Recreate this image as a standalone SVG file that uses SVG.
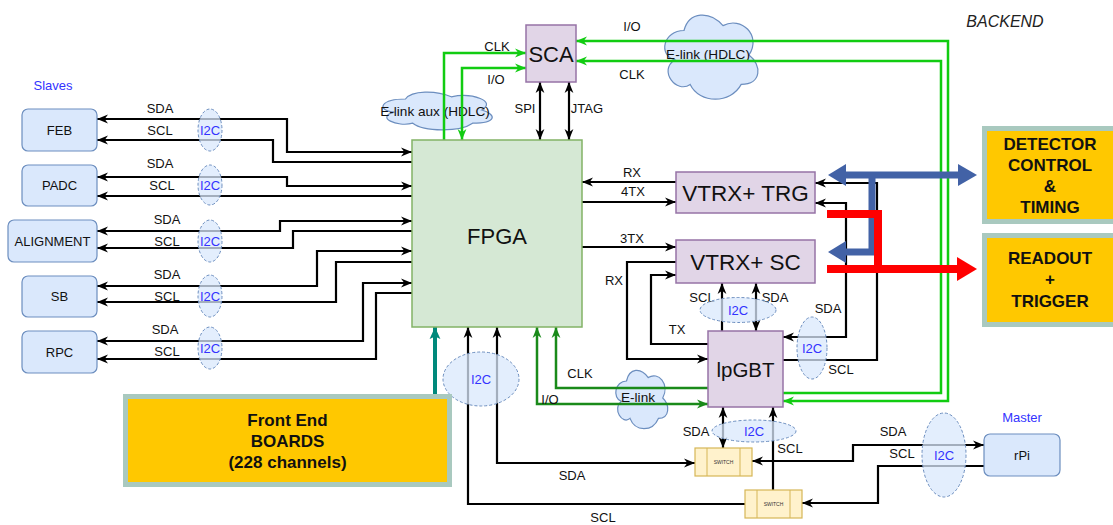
<svg xmlns="http://www.w3.org/2000/svg" width="1113" height="525" viewBox="0 0 1113 525">
<style>
text{font-family:"Liberation Sans",Arial,sans-serif;fill:#111}
.lbl{font-size:13px;text-anchor:middle}
.cl{font-size:13.6px;text-anchor:middle}
.box{fill:#DAE8FC;stroke:#6C8EBF;stroke-width:1.2}
.chip{fill:#E1D5E7;stroke:#9673A6;stroke-width:1.5}
.bt{font-size:13px;text-anchor:middle}
.i2c{fill:#DAE8FC;fill-opacity:0.75;stroke:#6C8EBF;stroke-width:1;stroke-dasharray:3 2}
.i2ct{font-size:13px;text-anchor:middle;fill:#3333FF}
.cloud{fill:#DAE8FC;stroke:#6C8EBF;stroke-width:1.2}
.k{fill:none;stroke:#000;stroke-width:2.2}
.g{fill:none;stroke:#11CC11;stroke-width:2.5}
.dg{fill:none;stroke:#1A8A1A;stroke-width:2.5}
.yb{fill:#FFC800;stroke:#A9C9BF;stroke-width:5}
.ybt{font-size:17px;font-weight:bold;text-anchor:middle}
.sw{fill:#FFF2CC;stroke:#D6B656;stroke-width:1.2}
.swt{font-size:5px;text-anchor:middle;fill:#333}
.blue{fill:none;stroke:#4262A6;stroke-width:7}
.red{fill:none;stroke:#FF0000;stroke-width:8}
</style>
<defs>
<marker id="ak" viewBox="0 0 10 10" refX="10" refY="5" markerWidth="11" markerHeight="11" markerUnits="userSpaceOnUse" orient="auto-start-reverse"><path d="M0,1 L10,5 L0,9 L3,5 Z" fill="#000"/></marker>
<marker id="ag" viewBox="0 0 10 10" refX="10" refY="5" markerWidth="11" markerHeight="11" markerUnits="userSpaceOnUse" orient="auto-start-reverse"><path d="M0,1 L10,5 L0,9 L3,5 Z" fill="#11CC11"/></marker>
<marker id="adg" viewBox="0 0 10 10" refX="10" refY="5" markerWidth="11" markerHeight="11" markerUnits="userSpaceOnUse" orient="auto-start-reverse"><path d="M0,1 L10,5 L0,9 L3,5 Z" fill="#1A8A1A"/></marker>
<marker id="at" viewBox="0 0 10 10" refX="10" refY="5" markerWidth="12" markerHeight="12" markerUnits="userSpaceOnUse" orient="auto-start-reverse"><path d="M0,0.5 L10,5 L0,9.5 L2,5 Z" fill="#00897B"/></marker>
</defs>

<rect width="1113" height="525" fill="#fff"/>

<!-- clouds -->
<g id="cloud-elink-aux">
<path class="cloud" d="M405.5,99 C381.1,99 375,110 394.5,112.2 C375,117 397,127.6 412.8,123.2 C423.8,132 460.4,132 472.6,123.2 C497,123.2 497,114.4 481.75,110 C497,101.2 472.6,92.4 451.25,96.8 C436,90.2 411.6,90.2 405.5,99 Z"/>
<text x="435" y="116" class="cl">E-link aux (HDLC)</text>
</g>
<g id="cloud-elink-hdlc">
<path class="cloud" d="M684,30.5 C663.2,30.5 658,55 674.6,59.9 C658,70.7 676.7,94.2 690.2,84.4 C699.6,104 730.8,104 741.2,84.4 C762,84.4 762,64.8 749,55 C762,35.4 741.2,15.8 723,25.6 C710,10.9 689.2,10.9 684,30.5 Z"/>
<text x="708" y="59" class="cl">E-link (HDLC)</text>
</g>
<g id="cloud-elink">
<path class="cloud" d="M626.5,381 C614.9,381 612,398 621.3,401.4 C612,408.9 622.4,425.2 630,418.4 C635.2,432 652.6,432 658.4,418.4 C670,418.4 670,404.8 662.75,398 C670,384.4 658.4,370.8 648.25,377.6 C641,367.4 629.4,367.4 626.5,381 Z"/>
<text x="638" y="402" class="cl">E-link</text>
</g>

<!-- connectors -->
<g id="connectors">
<path class="k" d="M412,152 H287 V119 H97" marker-start="url(#ak)" marker-end="url(#ak)"/>
<path class="k" d="M412,162 H273 V140 H97" marker-end="url(#ak)"/>
<path class="k" d="M412,186 H287 V177 H97" marker-start="url(#ak)" marker-end="url(#ak)"/>
<path class="k" d="M412,196 H97" marker-end="url(#ak)"/>
<path class="k" d="M412,221 H280 V231 H97" marker-start="url(#ak)" marker-end="url(#ak)"/>
<path class="k" d="M412,231 H293 V248 H97" marker-end="url(#ak)"/>
<path class="k" d="M412,251 H317 V286 H97" marker-start="url(#ak)" marker-end="url(#ak)"/>
<path class="k" d="M412,262 H336 V302 H97" marker-end="url(#ak)"/>
<path class="k" d="M412,283 H363 V341 H97" marker-start="url(#ak)" marker-end="url(#ak)"/>
<path class="k" d="M412,293 H376 V359 H97" marker-end="url(#ak)"/>
<path class="g" d="M444,140 V53 H526" marker-end="url(#ag)"/>
<path class="g" d="M526,68 H462 V140" marker-start="url(#ag)" marker-end="url(#ag)"/>
<path class="k" d="M540,82 V140" marker-start="url(#ak)" marker-end="url(#ak)"/>
<path class="k" d="M569,82 V140" marker-start="url(#ak)" marker-end="url(#ak)"/>
<path class="g" d="M576,41 H948 V401 H783" marker-start="url(#ag)" marker-end="url(#ag)"/>
<path class="g" d="M783,393 H941 V61 H576" marker-end="url(#ag)"/>
<path class="k" d="M676,182 H582" marker-end="url(#ak)"/>
<path class="k" d="M582,202 H676" marker-end="url(#ak)"/>
<path class="k" d="M582,247 H676" marker-end="url(#ak)"/>
<path class="k" d="M676,262 H627 V359 H708" marker-end="url(#ak)"/>
<path class="k" d="M708,344 H651 V275 H676" marker-end="url(#ak)"/>
<path class="k" d="M722,331 V283" marker-end="url(#ak)"/>
<path class="k" d="M756,331 V283" marker-start="url(#ak)" marker-end="url(#ak)"/>
<path class="k" d="M815,203 H846 V337 H783" marker-start="url(#ak)" marker-end="url(#ak)"/>
<path class="k" d="M783,360 H877 V183 H815" marker-end="url(#ak)"/>
<path class="dg" d="M708,404 H537 V327" marker-start="url(#adg)" marker-end="url(#adg)"/>
<path class="dg" d="M708,388 H556 V327" marker-end="url(#adg)"/>
<path fill="none" stroke="#00897B" stroke-width="4" d="M435,394 V327" marker-end="url(#at)"/>
<path class="k" d="M745,504 H468 V327" marker-end="url(#ak)"/>
<path class="k" d="M497,327 V463 H695" marker-start="url(#ak)" marker-end="url(#ak)"/>
<path class="k" d="M723,407 V448" marker-start="url(#ak)" marker-end="url(#ak)"/>
<path class="k" d="M773,490 V407" marker-end="url(#ak)"/>
<path class="k" d="M752,461 H853 V445 H984" marker-start="url(#ak)" marker-end="url(#ak)"/>
<path class="k" d="M984,466 H878 V503 H802" marker-end="url(#ak)"/>
<path class="blue" d="M844,175 H960"/>
<polygon points="828,175 846,164 846,186" fill="#4262A6"/>
<polygon points="977,175 958,164 958,186" fill="#4262A6"/>
<path class="blue" d="M872,175 V252 H844" stroke-linejoin="miter"/>
<polygon points="828,252 846,241 846,263" fill="#4262A6"/>
<path class="red" d="M827,214 H878 V269" stroke-linejoin="miter"/>
<path class="red" d="M827,269 H960"/>
<polygon points="977,269 957,257 957,281" fill="#FF0000"/>
</g>

<g id="conn-labels">
<text x="160" y="113" class="lbl">SDA</text><text x="160" y="135" class="lbl">SCL</text>
<text x="160" y="168" class="lbl">SDA</text><text x="162" y="190" class="lbl">SCL</text>
<text x="167" y="224" class="lbl">SDA</text><text x="167" y="246" class="lbl">SCL</text>
<text x="167" y="279" class="lbl">SDA</text><text x="167" y="301" class="lbl">SCL</text>
<text x="165" y="334" class="lbl">SDA</text><text x="167" y="356" class="lbl">SCL</text>
<text x="497" y="51" class="lbl">CLK</text>
<text x="496" y="84" class="lbl">I/O</text>
<text x="525" y="113" class="lbl">SPI</text>
<text x="587" y="113" class="lbl">JTAG</text>
<text x="632" y="31" class="lbl">I/O</text>
<text x="632" y="79" class="lbl">CLK</text>
<text x="632" y="177" class="lbl">RX</text>
<text x="633" y="196" class="lbl">4TX</text>
<text x="632" y="243" class="lbl">3TX</text>
<text x="614" y="285" class="lbl">RX</text>
<text x="702" y="302" class="lbl">SCL</text>
<text x="775" y="302" class="lbl">SDA</text>
<text x="677" y="334" class="lbl">TX</text>
<text x="828" y="313" class="lbl">SDA</text>
<text x="841" y="374" class="lbl">SCL</text>
<text x="580" y="378" class="lbl">CLK</text>
<text x="550" y="404" class="lbl">I/O</text>
<text x="696" y="436" class="lbl">SDA</text>
<text x="790" y="453" class="lbl">SCL</text>
<text x="572" y="480" class="lbl">SDA</text>
<text x="603" y="522" class="lbl">SCL</text>
<text x="893" y="436" class="lbl">SDA</text>
<text x="902" y="458" class="lbl">SCL</text>
</g>

<g id="i2c-feb"><ellipse class="i2c" cx="210" cy="130" rx="12" ry="21"/><text x="210" y="135" class="i2ct">I2C</text></g>
<g id="i2c-padc"><ellipse class="i2c" cx="210" cy="185" rx="12" ry="20"/><text x="210" y="190" class="i2ct">I2C</text></g>
<g id="i2c-align"><ellipse class="i2c" cx="210" cy="241" rx="12" ry="21"/><text x="210" y="246" class="i2ct">I2C</text></g>
<g id="i2c-sb"><ellipse class="i2c" cx="210" cy="296" rx="12" ry="21"/><text x="210" y="301" class="i2ct">I2C</text></g>
<g id="i2c-rpc"><ellipse class="i2c" cx="210" cy="348" rx="12" ry="21"/><text x="210" y="353" class="i2ct">I2C</text></g>
<g id="i2c-vtrx"><ellipse class="i2c" cx="738" cy="310" rx="38" ry="12.5"/><text x="738" y="315" class="i2ct">I2C</text></g>
<g id="i2c-right"><ellipse class="i2c" cx="812" cy="348" rx="15" ry="31"/><text x="812" y="353" class="i2ct">I2C</text></g>
<g id="i2c-fpga"><ellipse class="i2c" cx="481" cy="379" rx="38" ry="27"/><text x="481" y="384" class="i2ct">I2C</text></g>
<g id="i2c-switch"><ellipse class="i2c" cx="754" cy="431" rx="42" ry="11"/><text x="754" y="436" class="i2ct">I2C</text></g>
<g id="i2c-rpi"><ellipse class="i2c" cx="944" cy="455" rx="22" ry="42"/><text x="944" y="460" class="i2ct">I2C</text></g>

<text x="53" y="90" style="font-size:13px;text-anchor:middle;fill:#3333FF">Slaves</text>
<text x="1005" y="27" style="font-size:16px;font-style:italic;text-anchor:middle;fill:#222">BACKEND</text>

<g id="feb"><rect class="box" x="22" y="109" width="75" height="42" rx="6"/><text x="59.5" y="135" class="bt">FEB</text></g>
<g id="padc"><rect class="box" x="22" y="165" width="75" height="41" rx="6"/><text x="59.5" y="190" class="bt">PADC</text></g>
<g id="alignment"><rect class="box" x="8" y="220" width="89" height="42" rx="6"/><text x="52.5" y="246" class="bt">ALIGNMENT</text></g>
<g id="sb"><rect class="box" x="22" y="276" width="75" height="41" rx="6"/><text x="59.5" y="301" class="bt">SB</text></g>
<g id="rpc"><rect class="box" x="22" y="331" width="75" height="42" rx="6"/><text x="59.5" y="357" class="bt">RPC</text></g>

<g id="fpga"><rect x="412" y="140" width="170" height="187" fill="#D5E8D4" stroke="#82B366" stroke-width="1.5"/><text x="497" y="244" style="font-size:22px;text-anchor:middle">FPGA</text></g>
<g id="sca"><rect class="chip" x="526" y="25" width="50" height="57"/><text x="551" y="62" style="font-size:22px;text-anchor:middle">SCA</text></g>
<g id="vtrx-trg"><rect class="chip" x="676" y="172" width="139" height="41"/><text x="745.5" y="201" style="font-size:22.5px;text-anchor:middle">VTRX+ TRG</text></g>
<g id="vtrx-sc"><rect class="chip" x="676" y="240" width="139" height="43"/><text x="745.5" y="270" style="font-size:22.5px;text-anchor:middle">VTRX+ SC</text></g>
<g id="lpgbt"><rect class="chip" x="708" y="331" width="75" height="76"/><text x="745.5" y="377" style="font-size:20.5px;text-anchor:middle">lpGBT</text></g>

<g id="switch1"><rect class="sw" x="695" y="448" width="57" height="28"/><line x1="707" y1="448" x2="707" y2="476" stroke="#D6B656"/><line x1="740" y1="448" x2="740" y2="476" stroke="#D6B656"/><text x="723.5" y="464" class="swt">SWITCH</text></g>
<g id="switch2"><rect class="sw" x="745" y="490" width="57" height="28"/><line x1="757" y1="490" x2="757" y2="518" stroke="#D6B656"/><line x1="790" y1="490" x2="790" y2="518" stroke="#D6B656"/><text x="773.5" y="506" class="swt">SWITCH</text></g>

<g id="rpi"><text x="1022" y="422" style="font-size:13px;text-anchor:middle;fill:#3333FF">Master</text><rect class="box" x="984" y="434" width="76" height="42" rx="6"/><text x="1022" y="460" class="bt">rPi</text></g>

<g id="front-end"><rect class="yb" x="125.5" y="396.5" width="324" height="88"/><text x="287.5" y="426" class="ybt">Front End</text><text x="287.5" y="447" class="ybt">BOARDS</text><text x="287.5" y="468" class="ybt">(228 channels)</text></g>
<g id="detector-control"><rect class="yb" x="984.5" y="128.5" width="135" height="93"/><text x="1050" y="150" class="ybt">DETECTOR</text><text x="1050" y="171" class="ybt">CONTROL</text><text x="1050" y="192" class="ybt">&amp;</text><text x="1050" y="213" class="ybt">TIMING</text></g>
<g id="readout"><rect class="yb" x="984.5" y="235.5" width="135" height="89"/><text x="1050" y="264" class="ybt">READOUT</text><text x="1050" y="285" class="ybt">+</text><text x="1050" y="307" class="ybt">TRIGGER</text></g>
</svg>
